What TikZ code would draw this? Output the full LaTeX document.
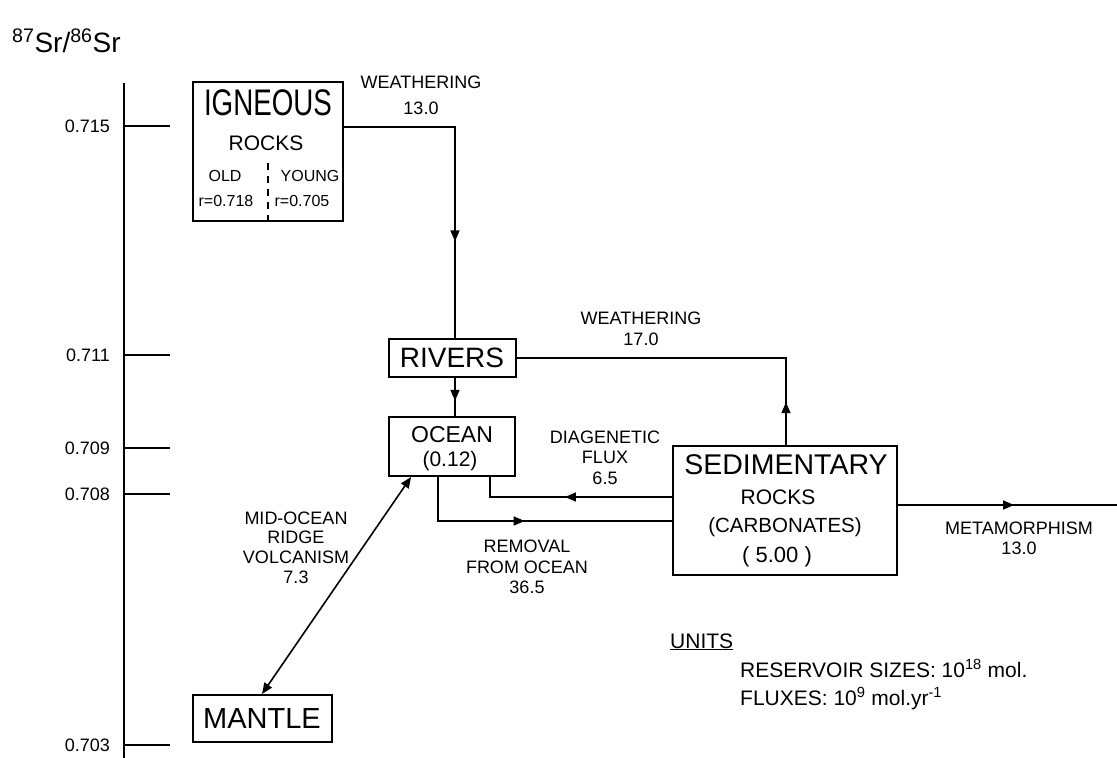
\documentclass[tikz,border=0pt]{standalone}
\usepackage{fontspec}
\setmainfont{Liberation Sans}
\newfontfamily\narrowfont[FakeStretch=0.75]{Liberation Sans}
\usetikzlibrary{arrows.meta,positioning,calc,decorations.markings}

\begin{document}
\begin{tikzpicture}[x=1pt, y=-1pt,
    res/.style={draw, rectangle, line width=2pt, inner sep=0pt},
    txt/.style={inner sep=0pt, align=center},
    lbl/.style={inner sep=0pt, align=center, font=\fontsize{18}{20.5}\selectfont},
    tickl/.style={inner sep=0pt, anchor=east, font=\fontsize{18}{18}\selectfont},
    note/.style={inner sep=0pt, anchor=base west, font=\fontsize{21}{21}\selectfont},
    con/.style={line width=1.6pt},
    tip/.style={-{Triangle[length=11pt,width=9pt]}},
    flow/.style={con, postaction={decorate}, decoration={markings, mark=at position #1 with {\arrow{Triangle[length=11pt,width=9pt]}}}}]

    \useasboundingbox (0,0) rectangle (1117,758);

    \node[anchor=base west, inner sep=0pt, font=\fontsize{28}{28}\selectfont] (ttl) at (12,52) {\textsuperscript{87}Sr/\textsuperscript{86}Sr};

    \draw[line width=1.8pt] (124,83) -- (124,758);
    \foreach \val/\ypos [count=\i] in {0.715/126, 0.711/355, 0.709/448, 0.708/494, 0.703/745} {
        \node[tickl] (tick\i) at (110,\ypos) {\val};
        \draw[con] (124,\ypos) -- (170,\ypos);
    }

    \node[res, minimum width=150pt, minimum height=139pt] (ign) at (268,151.5) {};
    \node[txt, font=\narrowfont\fontsize{37}{37}\selectfont] (ignA) at (268,103) {IGNEOUS};
    \node[txt, font=\fontsize{21}{21}\selectfont] (ignB) at (266,143) {ROCKS};
    \node[txt, font=\fontsize{16}{16}\selectfont] (ignOld) at (225,176) {OLD};
    \node[txt, font=\fontsize{16}{16}\selectfont] (ignYoung) at (310,176) {YOUNG};
    \node[txt, font=\fontsize{16}{16}\selectfont] (ignRo) at (226,201) {r=0.718};
    \node[txt, font=\fontsize{16}{16}\selectfont] (ignRy) at (302,201) {r=0.705};
    \draw[con, dash pattern=on 7pt off 6pt] (ign.south) -- ++(0,-61);

    \node[res, minimum width=127pt, minimum height=38pt, font=\fontsize{28}{28}\selectfont] (riv) at (452,358) {RIVERS};

    \node[res, minimum width=126pt, minimum height=59pt] (ocn) at (452,446.5) {};
    \node[txt, font=\fontsize{23}{23}\selectfont] (ocnA) at (452,435) {OCEAN};
    \node[txt, font=\fontsize{21}{21}\selectfont] (ocnB) at (450,461) {(0.12)};

    \node[res, minimum width=224pt, minimum height=129pt] (sed) at (785,510.5) {};
    \node[txt, font=\fontsize{28.5}{28.5}\selectfont] (sedA) at (786,465) {SEDIMENTARY};
    \node[txt, font=\fontsize{21}{21}\selectfont] (sedB) at (778,497) {ROCKS};
    \node[txt, font=\fontsize{20.5}{20.5}\selectfont] (sedC) at (785,527) {(CARBONATES)};
    \node[txt, font=\fontsize{22}{22}\selectfont] (sedD) at (777,557) {( 5.00 )};

    \node[res, minimum width=139pt, minimum height=47pt, font=\fontsize{29}{29}\selectfont] (mnt) at (262,718.5) {MANTLE};

    \coordinate (w1) at (455,127);
    \coordinate (w2) at (786,358);
    \coordinate (d1) at (490,497);
    \coordinate (r1) at (438,521);
    \coordinate (mEnd) at (1117,505);

    \draw[flow=0.70] (ign.east |- w1) -- (w1) -- (w1 |- riv.north);
    \draw[flow=0.6] (w1 |- riv.south) -- (w1 |- ocn.north);
    \draw[flow=0.12] (w2 |- sed.north) -- (w2) -- (riv.east);
    \draw[flow=0.53] (sed.west |- d1) -- (d1) -- (d1 |- ocn.south);
    \draw[flow=0.47] (r1 |- ocn.south) -- (r1) -- (sed.west |- r1);
    \draw[flow=0.53] (sed.east |- mEnd) -- (mEnd);
    \draw[con, {Triangle[length=11pt,width=9pt]}-{Triangle[length=11pt,width=9pt]}] ($(ocn.south west)!0.18!(ocn.south east)$) -- (mnt.north);

    \node[lbl, font=\fontsize{18}{26}\selectfont] (wthA) at (421,95) {WEATHERING\\13.0};
    \node[lbl, font=\fontsize{18}{21}\selectfont] (wthB) at (641,328.5) {WEATHERING\\17.0};
    \node[lbl] (diag) at (605,457.5) {DIAGENETIC\\FLUX\\6.5};
    \node[lbl] (remv) at (527,567) {REMOVAL\\FROM OCEAN\\36.5};
    \node[lbl, font=\fontsize{18}{20}\selectfont] (meta) at (1019,538) {METAMORPHISM\\13.0};
    \node[lbl, font=\fontsize{18}{19.7}\selectfont] (mor) at (296,547.5) {MID-OCEAN\\RIDGE\\VOLCANISM\\7.3};

    \node[note] (unt) at (670,648) {\underline{UNITS}};
    \node[note] (unR) at (740,677) {RESERVOIR SIZES: 10\textsuperscript{18} mol.};
    \node[note] (unF) at (740,705) {FLUXES: 10\textsuperscript{9} mol.yr\textsuperscript{-1}};
\end{tikzpicture}
\end{document}
